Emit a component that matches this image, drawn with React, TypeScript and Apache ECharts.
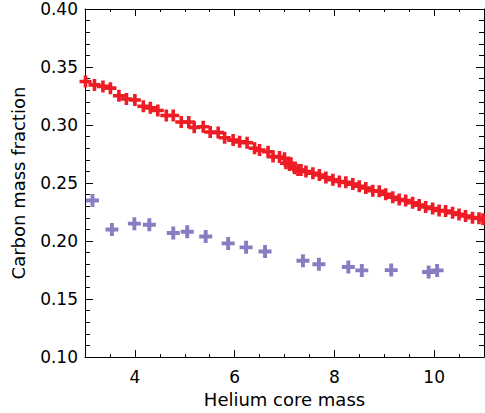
import React, { useEffect, useRef } from "react";
import * as echarts from "echarts";

// Red series: [helium core mass, carbon mass fraction]
const redMass = [3.01, 3.19, 3.36, 3.51, 3.68, 3.83, 4.0, 4.17, 4.31, 4.46, 4.63, 4.77, 4.93, 5.08, 5.19, 5.37, 5.51, 5.67, 5.8, 5.97, 6.1, 6.25, 6.4, 6.5, 6.67, 6.77, 6.9, 7.0, 7.03, 7.1, 7.13, 7.2, 7.27, 7.33, 7.43, 7.57, 7.7, 7.83, 7.97, 8.1, 8.23, 8.37, 8.5, 8.63, 8.77, 8.9, 9.03, 9.17, 9.3, 9.43, 9.57, 9.7, 9.83, 9.97, 10.1, 10.23, 10.37, 10.5, 10.63, 10.77, 10.9, 10.98];
const redFrac = [0.3375, 0.3346, 0.3333, 0.3318, 0.3253, 0.3224, 0.3216, 0.3162, 0.3148, 0.3125, 0.3082, 0.3082, 0.3026, 0.3026, 0.298, 0.2985, 0.294, 0.2935, 0.289, 0.287, 0.2855, 0.2847, 0.28, 0.2784, 0.277, 0.2728, 0.2725, 0.2713, 0.267, 0.2656, 0.267, 0.2627, 0.2613, 0.2613, 0.26, 0.2585, 0.257, 0.2548, 0.2528, 0.2514, 0.2506, 0.2491, 0.2472, 0.2457, 0.2434, 0.2429, 0.2403, 0.2378, 0.2358, 0.2349, 0.233, 0.231, 0.2293, 0.2281, 0.2264, 0.2259, 0.2244, 0.223, 0.2216, 0.2202, 0.2196, 0.2187];

// Purple series
const purpleMass = [3.15, 3.54, 3.99, 4.29, 4.77, 5.05, 5.42, 5.87, 6.23, 6.61, 7.37, 7.69, 8.28, 8.55, 9.14, 9.89, 10.06];
const purpleFrac = [0.235, 0.21, 0.215, 0.214, 0.207, 0.208, 0.204, 0.198, 0.1946, 0.191, 0.183, 0.18, 0.1776, 0.1747, 0.175, 0.1733, 0.1747];

const xMajorTicks = [4, 6, 8, 10];
const xMin = 3, xMax = 11, xMinorStep = 0.5;
const yMin = 0.1, yMax = 0.4, yStep = 0.05;

const PLUS = "path://M7,0H13V7H20V13H13V20H7V13H0V7H7Z";
const FONT = "DejaVu Sans";

export default function App() {
  const ref = useRef<HTMLDivElement>(null);
  useEffect(() => {
    if (!ref.current) return;
    const chart = echarts.init(ref.current, null, { renderer: "svg" });
    const lineStyle = { color: "#000", width: 1 };
    const minorAxis = (pos: string) => ({
      type: "value", position: pos, min: xMin, max: xMax, interval: xMinorStep,
      axisLine: { show: true, onZero: false, lineStyle },
      axisTick: { show: true, inside: true, length: 3, lineStyle },
      axisLabel: { show: false },
      splitLine: { show: false },
    });
    const majorAxis = (pos: string, labels: boolean) => ({
      type: "value", position: pos, min: xMin, max: xMax,
      axisLine: { show: false, onZero: false },
      axisTick: { show: true, inside: true, length: 7, lineStyle, customValues: xMajorTicks },
      axisLabel: labels
        ? { show: true, customValues: xMajorTicks, margin: 11, fontSize: 17, color: "#000", fontFamily: FONT }
        : { show: false },
      splitLine: { show: false },
      ...(labels ? { name: "Helium core mass", nameLocation: "middle", nameGap: 32, nameTextStyle: { fontSize: 18, color: "#000", fontFamily: FONT } } : {}),
    });
    const yAxis = (pos: string, labels: boolean) => ({
      type: "value", position: pos, min: yMin, max: yMax, interval: yStep,
      axisLine: { show: true, onZero: false, lineStyle },
      axisTick: { show: true, inside: true, length: 8, lineStyle },
      minorTick: { show: true, splitNumber: 5, length: 5, lineStyle },
      axisLabel: labels
        ? { show: true, margin: 7, fontSize: 17, color: "#000", fontFamily: FONT, formatter: (v: number) => v.toFixed(2) }
        : { show: false },
      splitLine: { show: false },
      ...(labels ? { name: "Carbon mass fraction", nameLocation: "middle", nameGap: 58, nameTextStyle: { fontSize: 18, color: "#000", fontFamily: FONT } } : {}),
    });
    chart.setOption({
      animation: false,
      backgroundColor: "#fff",
      textStyle: { fontFamily: FONT },
      grid: { left: 85, right: 1, top: 9, bottom: 52, containLabel: false },
      xAxis: [minorAxis("bottom"), majorAxis("bottom", true), minorAxis("top"), majorAxis("top", false)],
      yAxis: [yAxis("left", true), yAxis("right", false)],
      series: [
        {
          type: "scatter", xAxisIndex: 0, yAxisIndex: 0, symbol: PLUS, symbolSize: 12,
          itemStyle: { color: "#ee1c25", opacity: 1 },
          data: redMass.map((m, i) => [m, redFrac[i]]),
        },
        {
          type: "scatter", xAxisIndex: 0, yAxisIndex: 0, symbol: PLUS, symbolSize: 13,
          itemStyle: { color: "#8a7cc2", opacity: 1 },
          data: purpleMass.map((m, i) => [m, purpleFrac[i]]),
        },
      ],
    });
    return () => chart.dispose();
  }, []);
  return <div ref={ref} style={{ position: "absolute", left: 0, top: 0, width: 485, height: 413 }} />;
}
